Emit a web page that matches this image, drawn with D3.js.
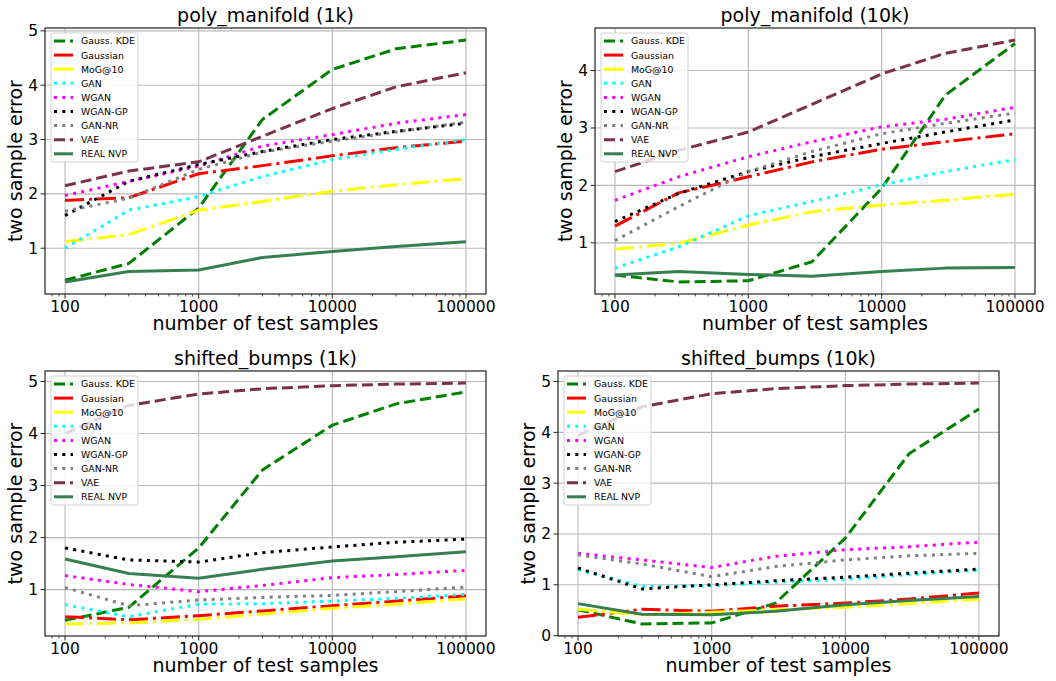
<!DOCTYPE html>
<html>
<head>
<meta charset="utf-8">
<script src="https://cdn.jsdelivr.net/npm/d3@7"></script>
<style>
  body { margin: 0; background: #fff; }
  svg { display: block; font-family: 'DejaVu Sans', sans-serif; }
</style>
</head>
<body>
<div id="chart"></div>
<script>
// x values (number of test samples)
const sizes = [100, 300, 1000, 3000, 10000, 30000, 100000]

const methods = ['Gauss. KDE', 'Gaussian', 'MoG@10', 'GAN', 'WGAN', 'WGAN-GP', 'GAN-NR', 'VAE', 'REAL NVP']
const colors = ['#008000', '#ff0000', '#ffff00', '#00ffff', '#ff00ff', '#000000', '#808080', '#7b3050', '#367f4f']
const styles = ['dashed', 'dashdot', 'dashdot', 'dotted', 'dotted', 'dotted', 'dotted', 'dashed', 'solid']

const titles = ['poly_manifold (1k)', 'poly_manifold (10k)', 'shifted_bumps (1k)', 'shifted_bumps (10k)']

// one row per method, same order as `methods`
const polyManifold1k = [
  [0.41, 0.72, 1.74, 3.37, 4.29, 4.67, 4.83],
  [1.88, 1.93, 2.37, 2.52, 2.70, 2.85, 2.97],
  [1.12, 1.25, 1.70, 1.86, 2.05, 2.17, 2.28],
  [1.00, 1.70, 1.95, 2.32, 2.63, 2.82, 3.00],
  [1.97, 2.23, 2.51, 2.88, 3.09, 3.30, 3.46],
  [1.60, 2.23, 2.54, 2.78, 3.00, 3.15, 3.30],
  [1.68, 1.92, 2.45, 2.77, 2.97, 3.14, 3.32],
  [2.15, 2.42, 2.59, 3.06, 3.57, 3.97, 4.23],
  [0.38, 0.57, 0.60, 0.83, 0.94, 1.03, 1.12]
]

const polyManifold10k = [
  [0.44, 0.32, 0.34, 0.67, 1.95, 3.57, 4.47],
  [1.29, 1.87, 2.15, 2.41, 2.63, 2.76, 2.90],
  [0.89, 0.99, 1.31, 1.54, 1.66, 1.74, 1.85],
  [0.56, 0.93, 1.47, 1.72, 2.01, 2.24, 2.45],
  [1.74, 2.15, 2.50, 2.76, 3.02, 3.15, 3.36],
  [1.37, 1.86, 2.24, 2.50, 2.73, 2.93, 3.14],
  [1.04, 1.63, 2.24, 2.59, 2.90, 3.08, 3.26],
  [2.24, 2.61, 2.93, 3.41, 3.94, 4.30, 4.53],
  [0.44, 0.50, 0.45, 0.42, 0.50, 0.56, 0.57]
]

const shiftedBumps1k = [
  [0.41, 0.66, 1.80, 3.30, 4.16, 4.57, 4.80],
  [0.48, 0.42, 0.50, 0.59, 0.69, 0.78, 0.88],
  [0.34, 0.36, 0.43, 0.53, 0.64, 0.72, 0.82],
  [0.71, 0.48, 0.72, 0.73, 0.78, 0.83, 0.91],
  [1.27, 1.10, 0.96, 1.08, 1.23, 1.29, 1.37],
  [1.80, 1.57, 1.53, 1.71, 1.82, 1.91, 1.97],
  [1.04, 0.69, 0.80, 0.85, 0.89, 0.96, 1.05],
  [4.00, 4.54, 4.76, 4.86, 4.92, 4.95, 4.97],
  [1.59, 1.31, 1.22, 1.39, 1.55, 1.63, 1.73]
]

const shiftedBumps10k = [
  [0.51, 0.23, 0.25, 0.64, 1.92, 3.58, 4.46],
  [0.36, 0.52, 0.48, 0.58, 0.64, 0.72, 0.84],
  [0.52, 0.41, 0.46, 0.51, 0.56, 0.63, 0.72],
  [1.30, 0.97, 0.98, 1.05, 1.11, 1.20, 1.29],
  [1.62, 1.49, 1.34, 1.56, 1.69, 1.75, 1.84],
  [1.33, 0.92, 1.00, 1.08, 1.15, 1.23, 1.31],
  [1.59, 1.41, 1.16, 1.36, 1.49, 1.57, 1.62],
  [3.94, 4.50, 4.76, 4.86, 4.92, 4.95, 4.97],
  [0.63, 0.42, 0.41, 0.48, 0.61, 0.69, 0.77]
]

const panelData = [polyManifold1k, polyManifold10k, shiftedBumps1k, shiftedBumps10k]

// axes frames in page pixels
const frames = [
  { left: 45, right: 486, top: 28, bottom: 294 },
  { left: 595, right: 1035, top: 28, bottom: 294 },
  { left: 45, right: 486, top: 371, bottom: 636 },
  { left: 558, right: 999, top: 371, bottom: 636 }
]

const dashes = {
  dashed: '11,5',
  dashdot: '19,5,3,5',
  dotted: '3,5.3',
  solid: null
}

const width = 1056,
      height = 681

const svg = d3.select('#chart')
  .append('svg')
  .attr('width', width)
  .attr('height', height)

panelData.forEach(function(rows, i) {
  const f = frames[i]
  const g = svg.append('g')

  // log x with matplotlib-like 5% margin in log space
  const lo = Math.log10(d3.min(sizes)), hi = Math.log10(d3.max(sizes))
  const xm = (hi - lo) * 0.05
  const x = d3.scaleLog()
    .domain([Math.pow(10, lo - xm), Math.pow(10, hi + xm)])
    .range([f.left, f.right])

  const all = rows.flat()
  const ymin = d3.min(all), ymax = d3.max(all)
  const ym = (ymax - ymin) * 0.05
  const y = d3.scaleLinear()
    .domain([ymin - ym, ymax + ym])
    .range([f.bottom, f.top])

  const xMajor = sizes.filter(function(s) { return [100, 1000, 10000, 100000].includes(s) })
  const xMinor = []
  for (let e = 1; e <= 5; e++) {
    for (let k = 2; k <= 9; k++) {
      const v = k * Math.pow(10, e)
      if (v >= x.domain()[0] && v <= x.domain()[1]) xMinor.push(v)
    }
  }
  const yTicks = d3.range(Math.ceil(y.domain()[0]), Math.floor(y.domain()[1]) + 1)

  // grid
  g.selectAll('.gx').data(xMajor).enter().append('line')
    .attr('x1', d => x(d)).attr('x2', d => x(d))
    .attr('y1', f.top).attr('y2', f.bottom)
    .attr('stroke', '#b8b8b8').attr('stroke-width', 1.1)
  g.selectAll('.gy').data(yTicks).enter().append('line')
    .attr('x1', f.left).attr('x2', f.right)
    .attr('y1', d => y(d)).attr('y2', d => y(d))
    .attr('stroke', '#b8b8b8').attr('stroke-width', 1.1)

  // series
  const line = d3.line()
    .x((d, j) => x(sizes[j]))
    .y(d => y(d))

  rows.forEach(function(vals, m) {
    g.append('path')
      .datum(vals)
      .attr('d', line)
      .attr('fill', 'none')
      .attr('stroke', colors[m])
      .attr('stroke-width', 3)
      .attr('stroke-linejoin', 'round')
      .attr('stroke-linecap', 'butt')
      .attr('stroke-dasharray', dashes[styles[m]])
  })

  // frame
  g.append('rect')
    .attr('x', f.left).attr('y', f.top)
    .attr('width', f.right - f.left).attr('height', f.bottom - f.top)
    .attr('fill', 'none').attr('stroke', '#222').attr('stroke-width', 1.2)

  // x ticks
  g.selectAll('.xt').data(xMajor).enter().append('line')
    .attr('x1', d => x(d)).attr('x2', d => x(d))
    .attr('y1', f.bottom).attr('y2', f.bottom + 4.5)
    .attr('stroke', '#222').attr('stroke-width', 1)
  g.selectAll('.xmt').data(xMinor).enter().append('line')
    .attr('x1', d => x(d)).attr('x2', d => x(d))
    .attr('y1', f.bottom).attr('y2', f.bottom + 2.5)
    .attr('stroke', '#222').attr('stroke-width', 0.8)
  g.selectAll('.xl').data(xMajor).enter().append('text')
    .attr('x', d => x(d)).attr('y', f.bottom + 18)
    .attr('text-anchor', 'middle')
    .attr('font-size', 15.5)
    .text(d => d)

  // y ticks
  g.selectAll('.yt').data(yTicks).enter().append('line')
    .attr('x1', f.left - 4.5).attr('x2', f.left)
    .attr('y1', d => y(d)).attr('y2', d => y(d))
    .attr('stroke', '#222').attr('stroke-width', 1)
  g.selectAll('.yl').data(yTicks).enter().append('text')
    .attr('x', f.left - 7).attr('y', d => y(d) + 5.5)
    .attr('text-anchor', 'end')
    .attr('font-size', 15.5)
    .text(d => d)

  // labels
  g.append('text')
    .attr('x', (f.left + f.right) / 2).attr('y', f.top - 6)
    .attr('text-anchor', 'middle')
    .attr('font-size', 19)
    .text(titles[i])
  g.append('text')
    .attr('x', (f.left + f.right) / 2).attr('y', f.bottom + 36)
    .attr('text-anchor', 'middle')
    .attr('font-size', 19)
    .text('number of test samples')
  g.append('text')
    .attr('transform', 'translate(' + (f.left - 23) + ',' + ((f.top + f.bottom) / 2) + ') rotate(-90)')
    .attr('text-anchor', 'middle')
    .attr('font-size', 19)
    .text('two sample error')

  // legend
  const lx = f.left + 6, ly = f.top + 5
  const leg = g.append('g').attr('transform', 'translate(' + lx + ',' + ly + ')')
  leg.append('rect')
    .attr('width', 87).attr('height', 129)
    .attr('rx', 2.5)
    .attr('fill', 'rgba(255,255,255,0.8)')
    .attr('stroke', '#d0d0d0').attr('stroke-width', 1)
  methods.forEach(function(name, m) {
    const cy = 8 + m * 14.1
    leg.append('line')
      .attr('x1', 3).attr('x2', 22)
      .attr('y1', cy).attr('y2', cy)
      .attr('stroke', colors[m])
      .attr('stroke-width', 3)
      .attr('stroke-dasharray', dashes[styles[m]])
    leg.append('text')
      .attr('x', 30).attr('y', cy + 3.4)
      .attr('font-size', 9.4)
      .text(name)
  })
})
</script>
</body>
</html>
